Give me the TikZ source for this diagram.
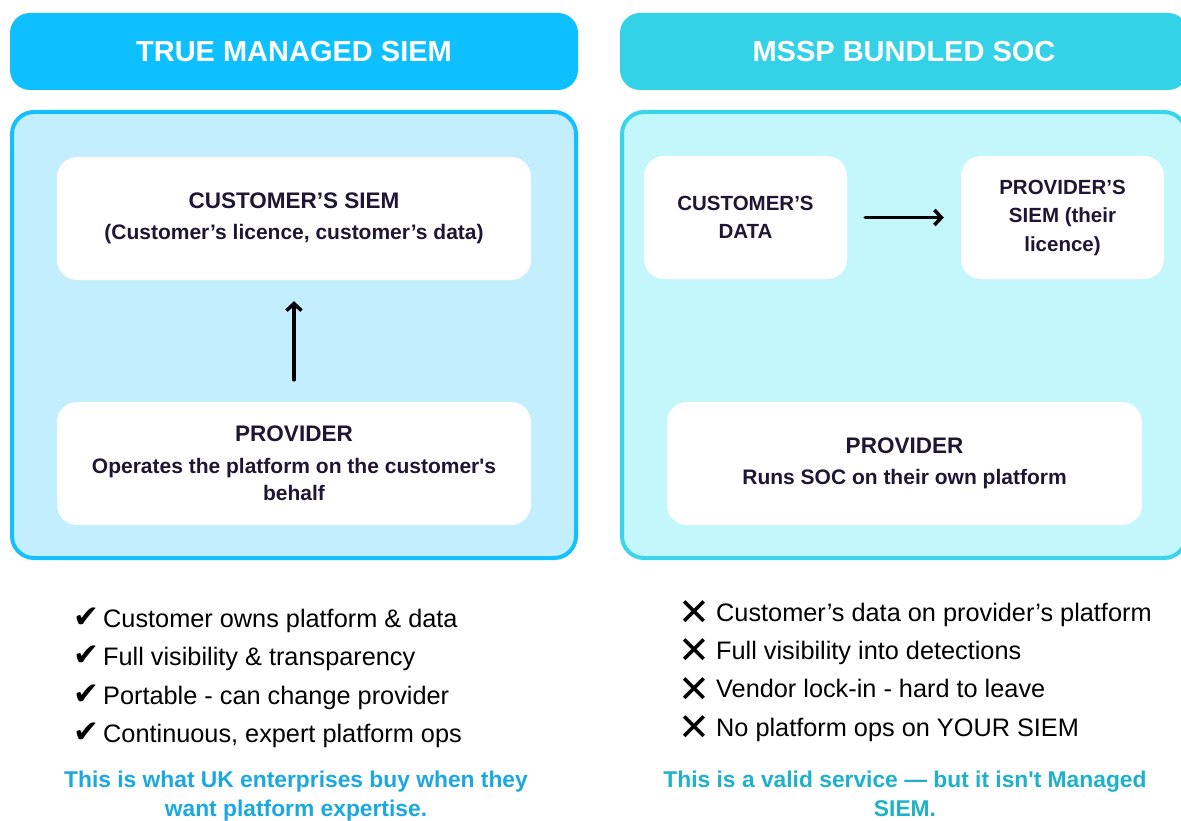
\documentclass[tikz,border=0pt]{standalone}
\usepackage{fontspec}
\setmainfont{Liberation Sans}
\newfontfamily\symfont{DejaVu Sans}
\usetikzlibrary{arrows.meta}
\definecolor{siemblue}{HTML}{0EC0FF}
\definecolor{socteal}{HTML}{33D2E6}
\definecolor{siemline}{HTML}{14C0FF}
\definecolor{siemfill}{HTML}{C2EEFD}
\definecolor{socline}{HTML}{3AD5E8}
\definecolor{socfill}{HTML}{C3F7FC}
\definecolor{ink}{HTML}{1F1633}
\definecolor{noteblue}{HTML}{1BA8E0}
\definecolor{noteteal}{HTML}{1EB2C8}
\newcommand{\sq}{\textquotesingle}
\newcommand{\cardtitle}[1]{{\fontsize{22.5}{27}\selectfont #1}}
\newcommand{\okmark}{\makebox[30pt][l]{\symfont\fontsize{31}{30}\selectfont ✔}}
\newcommand{\nomark}{\makebox[35pt][l]{\hspace{-3pt}\raisebox{-4.5pt}{\symfont\fontsize{38}{30}\selectfont ✕}}}
\tikzset{
  hdr/.style={rounded corners=20pt, minimum width=568pt, minimum height=77pt, text=white, font=\fontsize{29}{34}\selectfont\bfseries},
  panel/.style={rounded corners=22pt, line width=4pt, minimum width=564pt, minimum height=446pt},
  card/.style={fill=white, rounded corners=20pt, minimum height=123pt, align=center, text=ink, inner sep=0pt, font=\fontsize{21}{27.5}\selectfont\bfseries},
  item/.style={anchor=base west, inner sep=0pt, font=\fontsize{25.3}{28}\selectfont},
  note/.style={align=center, inner sep=0pt, font=\fontsize{22.8}{29}\selectfont\bfseries},
  flow/.style={-{Straight Barb[length=7pt,width=15pt]}, line width=3.5pt, line cap=round},
}

\begin{document}
\begin{tikzpicture}[x=1pt, y=1pt]
  \clip (0,0) rectangle (1181,-821);
  \fill[white] (0,0) rectangle (1181,-821);
  % headers
  \node[hdr, fill=siemblue] (hdrL) at (294,-51.5) {TRUE MANAGED SIEM};
  \node[hdr, fill=socteal] (hdrR) at (904,-51.5) {MSSP BUNDLED SOC};
  % panels
  \node[panel, draw=siemline, fill=siemfill] (panL) at (294,-335) {};
  \node[panel, draw=socline, fill=socfill] (panR) at (904,-335) {};
  % true managed siem
  \node[card, minimum width=474pt] (siemL) at (294,-218.5)
    {\cardtitle{CUSTOMER’S SIEM}\\[4pt](Customer’s licence, customer’s data)};
  \node[card, minimum width=474pt] (provL) at (294,-463.5)
    {\cardtitle{PROVIDER}\\[4pt]Operates the platform on the customer\sq s\\behalf};
  \draw[flow, shorten <=22pt, shorten >=21pt] (provL) -- (siemL);
  % mssp bundled soc
  \node[card, minimum width=203pt, font=\fontsize{20.5}{28.5}\selectfont\bfseries] (dataR) at (745.5,-217.5)
    {CUSTOMER’S\\DATA};
  \node[card, minimum width=203pt, font=\fontsize{20.5}{28.5}\selectfont\bfseries] (siemR) at (1062.5,-217.5)
    {PROVIDER’S\\SIEM (their\\licence)};
  \node[card, minimum width=475pt] (provR) at (904.5,-463.5)
    {\cardtitle{PROVIDER}\\[4pt]Runs SOC on their own platform};
  \draw[flow, shorten <=18pt, shorten >=17pt] (dataR) -- (siemR);
  % pros and cons
  \foreach \t [count=\i] in {Customer owns platform \& data, Full visibility \& transparency,
      Portable - can change provider, {Continuous, expert platform ops}}
    \node[item] (okL\i) at (73,-627-38.6*\i+38.6) {\okmark\t};
  \foreach \t [count=\i] in {Customer’s data on provider’s platform, Full visibility into detections,
      Vendor lock-in - hard to leave, No platform ops on YOUR SIEM}
    \node[item] (noR\i) at (681,-621-38.4*\i+38.4) {\nomark\t};
  % verdicts
  \node[note, text=noteblue, anchor=base] (noteL) at (296,-816)
    {This is what UK enterprises buy when they\\want platform expertise.};
  \node[note, text=noteteal, anchor=base] (noteR) at (905,-816)
    {This is a valid service — but it isn\sq t Managed\\SIEM.};
\end{tikzpicture}
\end{document}
